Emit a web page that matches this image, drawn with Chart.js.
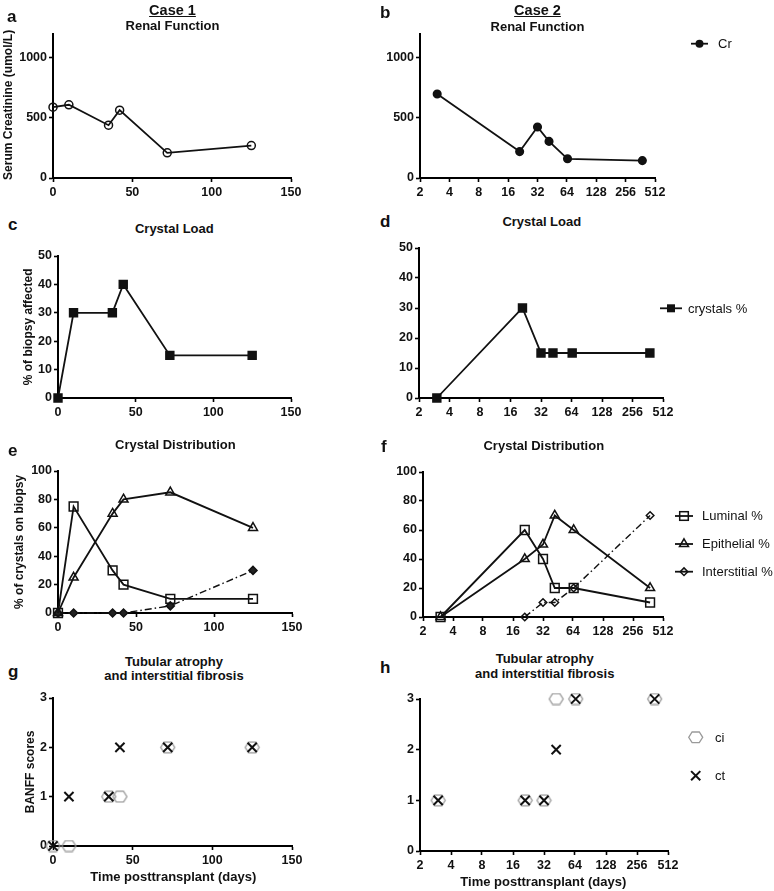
<!DOCTYPE html>
<html><head><meta charset="utf-8">
<script src="https://cdn.jsdelivr.net/npm/chart.js@4.4.0/dist/chart.umd.min.js"></script>
<style>
html,body{margin:0;padding:0;background:#fff;}
body{width:774px;height:891px;position:relative;overflow:hidden;font-family:"Liberation Sans",Arial,sans-serif;color:#111;}
canvas{position:absolute;}
.t{position:absolute;white-space:nowrap;line-height:1;}
svg{position:absolute;overflow:visible;}
</style></head><body>
<script>
// ---------------- DATA ----------------
// Case 1 (linear time axis, days)
const case1Days = [0, 10, 35, 42, 72, 125];
const case1Creatinine = [590, 610, 440, 565, 210, 270];
const case1CrystalLoad = [0, 30, 30, 40, 15, 15];
const case1Luminal = [0, 75, 30, 20, 10, 10];
const case1Epithelial = [0, 25, 70, 80, 85, 60];
const case1Interstitial = [0, 0, 0, 0, 5, 30];
const case1Ci = [0, 0, 1, 1, 2, 2];
const case1Ct = [0, 1, 1, 2, 2, 2];
// Case 2 (log2 time axis, days)
const case2Days = [3, 21, 32, 42, 65, 380];
const case2Creatinine = [700, 220, 425, 305, 160, 145];
const case2CrystalLoad = [0, 30, 15, 15, 15, 15];
const case2Luminal = [0, 60, 40, 20, 20, 10];
const case2Epithelial = [0, 40, 50, 70, 60, 20];
const case2Interstitial = [null, 0, 10, 10, 20, 70];
const case2Ci = [1, 1, 1, 3, 3, 3];
const case2Ct = [1, 1, 1, 2, 3, 3];
// Tick labels
const case1XTicks = [0, 50, 100, 150];
const case2XTicks = [2, 4, 8, 16, 32, 64, 128, 256, 512];
const creatinineTicks = [0, 500, 1000];
const crystalLoadTicks = [0, 10, 20, 30, 40, 50];
const distributionTicks = [0, 20, 40, 60, 80, 100];
const banffTicks = [0, 1, 2, 3];

// ---------------- STYLE ----------------
const FONT = '"Liberation Sans", Arial, sans-serif';
const INK = '#111';
const NONE = 'rgba(0,0,0,0)';

function hexImg(){
  const c = document.createElement('canvas'); c.width = 17; c.height = 13;
  const g = c.getContext('2d');
  g.strokeStyle = '#9a9a9a'; g.lineWidth = 1.3;
  const cx = 8.5, cy = 6.5, hw = 7, hh = 5.3, q = 3.6;
  g.beginPath();
  g.moveTo(cx-hw,cy); g.lineTo(cx-q,cy-hh); g.lineTo(cx+q,cy-hh);
  g.lineTo(cx+hw,cy); g.lineTo(cx+q,cy+hh); g.lineTo(cx-q,cy+hh); g.closePath();
  g.stroke();
  return c;
}
const HEX = hexImg();

function ds(xs, ys, style){
  const data = [];
  xs.forEach((x,i)=>{ if(ys[i]!==null && ys[i]!==undefined) data.push({x:x, y:ys[i]}); });
  return Object.assign({data:data, borderColor:INK, borderWidth:1.8, tension:0, clip:false,
    pointBorderColor:INK, pointBorderWidth:1.5, pointHoverRadius:0}, style);
}

function axis(cfg, dir, size){
  return {
    type: cfg.type, min: cfg.min, max: cfg.max, offset:false,
    afterBuildTicks: s => { s.ticks = cfg.ticks.map(v=>({value:v})); },
    afterFit: s => { if(dir==='x') s.height = size; else s.width = size; },
    border:{display:true, color:'#000', width:2},
    grid:{display:true, drawOnChartArea:false, drawTicks:true, tickLength:4, tickWidth:1.6, tickColor:'#000', color:'#000'},
    ticks:{autoSkip:false, maxRotation:0, minRotation:0, padding: dir==='x'?3:2, color:INK,
      font:{family:FONT, size:12.5, weight:'bold'}, callback: v => String(v)}
  };
}

function panel(r, xCfg, yCfg, datasets){
  const Wy=45, Hx=28, pt=12, pr=24;
  const cv = document.createElement('canvas');
  const left = r.x0 - Wy, top = r.yTop - pt;
  const w = Wy + (r.x1 - r.x0) + pr, h = pt + (r.yBot - r.yTop) + Hx;
  cv.width = w; cv.height = h;
  cv.style.left = left+'px'; cv.style.top = top+'px'; cv.style.width = w+'px'; cv.style.height = h+'px';
  document.body.appendChild(cv);
  new Chart(cv, {type:'line', data:{datasets:datasets}, options:{
    responsive:false, animation:false, devicePixelRatio:1, events:[],
    layout:{padding:{top:pt, right:pr, left:0, bottom:0}},
    plugins:{legend:{display:false}, tooltip:{enabled:false}, title:{display:false}},
    scales:{ x: axis(xCfg,'x',Hx), y: axis(yCfg,'y',Wy) }
  }});
}

const X1 = {type:'linear', min:0, max:150, ticks:case1XTicks};
const X2 = {type:'logarithmic', min:2, max:512, ticks:case2XTicks};
const YCr = {type:'linear', min:0, max:1200, ticks:creatinineTicks};
const YCl = {type:'linear', min:0, max:50, ticks:crystalLoadTicks};
const YDi = {type:'linear', min:0, max:100, ticks:distributionTicks};
const YBa = {type:'linear', min:0, max:3, ticks:banffTicks};
const DASHDOT = [7,3,1.5,3];

// a
panel({x0:53,x1:291,yTop:34,yBot:178}, X1, YCr, [
  ds(case1Days, case1Creatinine, {pointStyle:'circle', pointRadius:4, pointBackgroundColor:NONE})]);
// b
panel({x0:420,x1:655,yTop:34,yBot:178}, X2, YCr, [
  ds(case2Days, case2Creatinine, {pointStyle:'circle', pointRadius:3.8, pointBackgroundColor:INK})]);
// c
panel({x0:58,x1:291,yTop:256,yBot:398}, X1, YCl, [
  ds(case1Days, case1CrystalLoad, {pointStyle:'rect', pointRadius:5.6, pointBackgroundColor:INK})]);
// d
panel({x0:419,x1:663,yTop:248,yBot:398}, X2, YCl, [
  ds(case2Days, case2CrystalLoad, {pointStyle:'rect', pointRadius:5.6, pointBackgroundColor:INK})]);
// e
panel({x0:58,x1:292,yTop:471,yBot:613}, X1, YDi, [
  ds(case1Days, case1Luminal, {pointStyle:'rect', pointRadius:6.2, pointBackgroundColor:NONE}),
  ds(case1Days, case1Epithelial, {pointStyle:'triangle', pointRadius:5.2, pointBackgroundColor:NONE}),
  ds(case1Days, case1Interstitial, {pointStyle:'rectRot', pointRadius:4, pointBackgroundColor:'#222', borderDash:DASHDOT, borderWidth:1.4})]);
// f
panel({x0:423,x1:663,yTop:472,yBot:617}, X2, YDi, [
  ds(case2Days, case2Luminal, {pointStyle:'rect', pointRadius:6.2, pointBackgroundColor:NONE}),
  ds(case2Days, case2Epithelial, {pointStyle:'triangle', pointRadius:5.2, pointBackgroundColor:NONE}),
  ds(case2Days, case2Interstitial, {pointStyle:'rectRot', pointRadius:3.8, pointBackgroundColor:NONE, borderDash:DASHDOT, borderWidth:1.4})]);
// g
panel({x0:53,x1:292,yTop:698,yBot:846}, X1, YBa, [
  ds(case1Days, case1Ct, {showLine:false, pointStyle:'crossRot', pointRadius:6.5, pointBorderWidth:2}),
  ds(case1Days, case1Ci, {showLine:false, pointStyle:HEX, pointRadius:7})]);
// h
panel({x0:420,x1:668,yTop:699,yBot:851}, X2, YBa, [
  ds(case2Days, case2Ct, {showLine:false, pointStyle:'crossRot', pointRadius:6.5, pointBorderWidth:2}),
  ds(case2Days, case2Ci, {showLine:false, pointStyle:HEX, pointRadius:7})]);

// ---------------- TEXT ----------------
function txt(s, x, baseline, o){
  o = o || {};
  const fs = o.size || 13;
  const d = document.createElement('div');
  d.className = 't';
  d.textContent = s;
  d.style.fontSize = fs+'px';
  d.style.fontWeight = o.weight || 'bold';
  if (o.underline) d.style.textDecoration = 'underline';
  const top = baseline - 0.8465*fs;
  if (o.center){ d.style.left = (x-200)+'px'; d.style.width='400px'; d.style.textAlign='center'; }
  else d.style.left = x+'px';
  d.style.top = top+'px';
  document.body.appendChild(d);
}
function vtxt(s, cx, cy, fs){
  const d = document.createElement('div');
  d.className = 't';
  d.textContent = s;
  d.style.fontSize = fs+'px'; d.style.fontWeight='bold';
  d.style.width = '300px'; d.style.textAlign='center';
  d.style.left = (cx-150)+'px'; d.style.top = (cy - fs*0.49)+'px';
  d.style.height = fs+'px';
  d.style.transform = 'rotate(-90deg)';
  d.style.transformOrigin = '150px '+(fs*0.49)+'px';
  document.body.appendChild(d);
}
// panel letters
[['a',7,22],['b',380,18.5],['c',8,230],['d',380,227],['e',8,456],['f',381,452],['g',8,677],['h',380,673]]
  .forEach(p=>txt(p[0],p[1],p[2],{size:17}));
txt('Case 1',172.5,15,{size:14.5,center:true,underline:true});
txt('Case 2',537.5,15,{size:14.5,center:true,underline:true});
txt('Renal Function',172.5,30,{center:true});
txt('Renal Function',537.5,31.5,{center:true});
txt('Crystal Load',174.3,233,{center:true});
txt('Crystal Load',541.8,226,{center:true});
txt('Crystal Distribution',175.3,449,{center:true});
txt('Crystal Distribution',543.8,450,{center:true});
txt('Tubular atrophy',174,666,{center:true});
txt('and interstitial fibrosis',174,680.5,{center:true});
txt('Tubular atrophy',544.7,663.3,{center:true});
txt('and interstitial fibrosis',544.7,678,{center:true});
txt('Time posttransplant (days)',173.3,881,{center:true});
txt('Time posttransplant (days)',543.3,886.5,{center:true});
vtxt('Serum Creatinine (umol/L)',7.5,105,12);
vtxt('% of biopsy affected',27.5,327,12);
vtxt('% of crystals on biopsy',19,542,12);
vtxt('BANFF scores',30,772,12);

// ---------------- LEGENDS ----------------
const NS='http://www.w3.org/2000/svg';
function legendSwatch(x1, x2, cy, mx, marker){
  const s = document.createElementNS(NS,'svg');
  s.setAttribute('width', 1); s.setAttribute('height', 1);
  s.style.left='0px'; s.style.top='0px';
  let inner = '';
  if (x2 > x1) inner += `<line x1="${x1}" y1="${cy}" x2="${x2}" y2="${cy}" stroke="${INK}" stroke-width="1.8"/>`;
  inner += marker(mx, cy);
  s.innerHTML = inner;
  document.body.appendChild(s);
}
const mk = {
  dot:(x,y)=>`<circle cx="${x}" cy="${y}" r="4" fill="${INK}"/>`,
  sqFill:(x,y)=>`<rect x="${x-4}" y="${y-4}" width="8" height="8" fill="${INK}"/>`,
  sqOpen:(x,y)=>`<rect x="${x-4.3}" y="${y-4.3}" width="8.6" height="8.6" fill="none" stroke="${INK}" stroke-width="1.5"/>`,
  tri:(x,y)=>`<polygon points="${x},${y-5.2} ${x+4.5},${y+2.6} ${x-4.5},${y+2.6}" fill="none" stroke="${INK}" stroke-width="1.5"/>`,
  dia:(x,y)=>`<polygon points="${x},${y-3.8} ${x+3.8},${y} ${x},${y+3.8} ${x-3.8},${y}" fill="none" stroke="${INK}" stroke-width="1.5"/>`,
  hex:(x,y)=>`<polygon points="${x-7},${y} ${x-3.6},${y-5.3} ${x+3.6},${y-5.3} ${x+7},${y} ${x+3.6},${y+5.3} ${x-3.6},${y+5.3}" fill="none" stroke="#9a9a9a" stroke-width="1.3"/>`,
  cross:(x,y)=>`<path d="M${x-4.6},${y-4.6}L${x+4.6},${y+4.6}M${x+4.6},${y-4.6}L${x-4.6},${y+4.6}" stroke="${INK}" stroke-width="2"/>`
};
legendSwatch(691,708,43.7,699.5,mk.dot); txt('Cr',718,48.3,{weight:'normal'});
legendSwatch(660,682,308.3,671,mk.sqFill); txt('crystals %',688,313,{weight:'normal'});
legendSwatch(675,693,516,684,mk.sqOpen); txt('Luminal %',702,520.5,{weight:'normal'});
legendSwatch(675,693,544,684,mk.tri); txt('Epithelial %',702,548.5,{weight:'normal'});
legendSwatch(675,693,571.7,684,mk.dia); txt('Interstitial %',702,576.2,{weight:'normal'});
legendSwatch(0,0,737.3,695.7,mk.hex); txt('ci',715,742,{weight:'normal'});
legendSwatch(0,0,775.7,695.7,mk.cross); txt('ct',715,780.3,{weight:'normal'});
</script>
</body></html>
